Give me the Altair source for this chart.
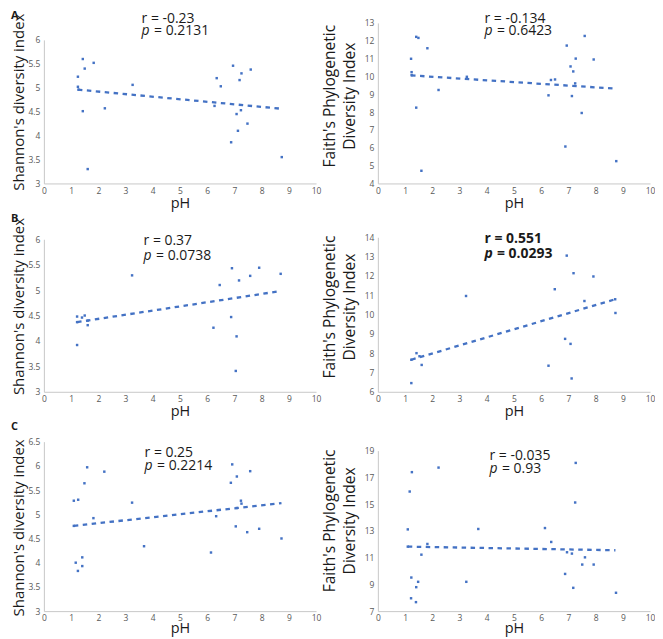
import altair as alt
import pandas as pd

# ---------------- data ----------------
x_ticks = [0, 1, 2, 3, 4, 5, 6, 7, 8, 9, 10]

# Row A
a1_ph = [1.25, 1.43, 1.50, 1.83, 1.25, 1.27, 1.43, 1.61, 2.24, 3.26, 6.35, 6.50, 6.27, 6.95, 7.19, 7.26, 7.60, 7.08, 7.24, 7.13, 7.48, 6.88, 8.74]
a1_val = [5.23, 5.60, 5.40, 5.52, 5.02, 4.96, 4.51, 3.30, 4.57, 5.06, 5.20, 5.03, 4.62, 5.46, 5.16, 5.30, 5.38, 4.45, 4.53, 4.10, 4.25, 3.86, 3.55]
a1_trend_ph = [1.25, 8.74]
a1_trend_val = [4.96, 4.56]
a1_yticks = [3, 3.5, 4, 4.5, 5, 5.5, 6]

a2_ph = [1.22, 1.24, 1.24, 1.41, 1.49, 1.82, 1.41, 1.60, 2.23, 3.27, 6.27, 6.36, 6.51, 6.94, 7.08, 7.18, 7.27, 7.25, 7.13, 7.60, 7.49, 7.93, 6.89, 8.76]
a2_val = [10.99, 10.24, 10.07, 12.22, 12.16, 11.58, 8.25, 4.71, 9.24, 9.98, 8.94, 9.80, 9.83, 11.73, 10.56, 10.28, 11.00, 9.61, 8.90, 12.27, 7.95, 10.95, 6.07, 5.25]
a2_trend_ph = [1.22, 8.77]
a2_trend_val = [10.06, 9.31]
a2_yticks = [4, 5, 6, 7, 8, 9, 10, 11, 12, 13]

# Row B
b1_ph = [1.22, 1.22, 1.40, 1.50, 1.61, 1.61, 1.22, 3.24, 6.46, 6.23, 6.88, 6.91, 7.17, 7.58, 7.91, 8.70, 7.08, 7.05]
b1_val = [4.48, 4.37, 4.46, 4.50, 4.40, 4.31, 3.92, 5.29, 5.10, 4.26, 4.47, 5.43, 5.19, 5.28, 5.44, 5.32, 4.09, 3.41]
b1_trend_ph = [1.22, 8.68]
b1_trend_val = [4.37, 4.98]
b1_yticks = [3, 3.5, 4, 4.5, 5, 5.5, 6]

b2_ph = [1.23, 1.23, 1.42, 1.53, 1.61, 3.24, 6.27, 6.50, 6.94, 7.19, 6.88, 7.08, 7.12, 7.59, 7.92, 8.73, 8.72]
b2_val = [7.66, 6.45, 8.00, 7.84, 7.39, 10.96, 7.35, 11.31, 13.05, 12.14, 8.74, 8.48, 6.69, 10.70, 11.97, 10.08, 10.79]
b2_trend_ph = [1.23, 8.72]
b2_trend_val = [7.66, 10.79]
b2_yticks = [6, 7, 8, 9, 10, 11, 12, 13, 14]

# Row C
c1_ph = [1.10, 1.26, 1.59, 1.49, 2.22, 1.82, 1.17, 1.25, 1.41, 1.41, 3.24, 3.68, 6.14, 6.33, 6.92, 7.09, 6.87, 7.24, 7.26, 7.09, 7.58, 7.05, 7.47, 7.91, 8.73, 1.10]
c1_val = [5.28, 5.30, 5.97, 5.64, 5.88, 4.92, 4.00, 3.83, 4.11, 3.93, 5.24, 4.34, 4.21, 4.96, 6.03, 5.78, 5.65, 5.28, 5.22, 5.13, 5.89, 4.75, 4.63, 4.70, 4.50, 4.76]
c1_trend_ph = [1.10, 8.73]
c1_trend_val = [4.76, 5.23]
c1_yticks = [3, 3.5, 4, 4.5, 5, 5.5, 6, 6.5]

c2_ph = [1.10, 1.17, 1.25, 1.23, 1.22, 1.40, 1.41, 1.48, 1.60, 1.82, 2.23, 3.25, 3.69, 6.14, 6.37, 6.88, 6.95, 7.13, 7.18, 7.25, 7.27, 7.51, 7.61, 7.93, 8.75, 1.10]
c2_val = [13.11, 15.94, 17.39, 9.51, 7.96, 7.67, 8.79, 9.19, 11.22, 12.02, 17.73, 9.19, 13.14, 13.21, 12.17, 9.78, 11.40, 11.30, 8.74, 15.12, 18.08, 10.48, 11.02, 10.48, 8.37, 11.82]
c2_trend_ph = [1.10, 8.73]
c2_trend_val = [11.82, 11.55]
c2_yticks = [7, 9, 11, 13, 15, 17, 19]

shannon_title = "Shannon's diversity index"
faith_title = ["Faith's Phylogenetic", "Diversity Index"]
stats_r = ["r = -0.23", "r = -0.134", "r = 0.37", "r = 0.551", "r = 0.25", "r = -0.035"]
stats_p = ["= 0.2131", "= 0.6423", "= 0.0738", "= 0.0293", "= 0.2214", "= 0.93"]
letters = ["A", "B", "C"]

# ---------------- styling ----------------
BLUE = "#4472C4"
FONT = "Open Sans"
W = 273


def txt(s, x, y, size=14, weight="normal", style="normal"):
    return alt.Chart(pd.DataFrame({"t": [s]})).mark_text(
        font=FONT, fontSize=size, fontWeight=weight, fontStyle=style,
        align="left", baseline="alphabetic", color="#1a1a1a"
    ).encode(text="t:N", x=alt.value(x), y=alt.value(y))


def panel(ph, val, tph, tval, yticks, H, ybot, ytop, ytitle, shannon, titley,
          r_txt, p_txt, tx, ry, py, bold=False, letter=None,
          xlabpad=3, xtitlepad=1.5):
    df = pd.DataFrame({"ph": ph, "v": val})
    tdf = pd.DataFrame({"ph": tph, "v": tval})
    ysc = alt.Scale(domain=[yticks[0], yticks[-1]], nice=False, zero=False,
                    range=[ybot, ytop])
    xaxis = alt.Axis(values=x_ticks, tickCount=40, format="~g", title="pH",
                     titlePadding=xtitlepad, labelPadding=xlabpad,
                     offset=-(H - ybot), labelOverlap=False,
                     labelFlush=False, labelBound=False)
    yaxis = alt.Axis(values=yticks, tickCount=40, format="~g", title=ytitle,
                     titlePadding=1 if shannon else 7,
                     titleFontSize=15 if shannon else 15.6,
                     titleLineHeight=20, titleY=titley,
                     labelOverlap=False, labelFlush=False, labelBound=False)
    xenc = alt.X("ph:Q", scale=alt.Scale(domain=[0, 10], nice=False), axis=xaxis)
    yenc = alt.Y("v:Q", scale=ysc, axis=yaxis)
    pts = alt.Chart(df).mark_square(size=6, color=BLUE, opacity=1).encode(x=xenc, y=yenc)
    line = alt.Chart(tdf).mark_line(color=BLUE, strokeWidth=2.3,
                                    strokeDash=[4.5, 4.5]).encode(x=xenc, y=yenc)
    wt = "bold" if bold else "normal"
    layers = [pts, line,
              txt(r_txt, tx, ry, weight=wt),
              txt("p", tx, py, weight=wt, style="italic"),
              txt(p_txt, tx + 12.5, py, weight=wt)]
    if letter is not None:
        layers.append(txt(letter, -33, 10, size=11, weight="bold"))
    return alt.layer(*layers).properties(width=W, height=H)


# row heights (each row's group spans its whole band of the figure)
HA, HB, HC = 204, 208, 219

pA1 = panel(a1_ph, a1_val, a1_trend_ph, a1_trend_val, a1_yticks, HA, 175, 31,
            shannon_title, True, 93, stats_r[0], stats_p[0], 98, 14.5, 26.5,
            letter=letters[0])
pA2 = panel(a2_ph, a2_val, a2_trend_ph, a2_trend_val, a2_yticks, HA, 175, 14,
            faith_title, False, 87, stats_r[1], stats_p[1], 107, 14, 26)
pB1 = panel(b1_ph, b1_val, b1_trend_ph, b1_trend_val, b1_yticks, HB, 180, 27,
            shannon_title, True, 94, stats_r[2], stats_p[2], 100, 33, 48,
            letter=letters[1], xtitlepad=1.5)
pB2 = panel(b2_ph, b2_val, b2_trend_ph, b2_trend_val, b2_yticks, HB, 180, 25,
            faith_title, False, 94.5, stats_r[3], stats_p[3], 107, 31, 46,
            bold=True, xtitlepad=1.5)
pC1 = panel(c1_ph, c1_val, c1_trend_ph, c1_trend_val, c1_yticks, HC, 192, 22,
            shannon_title, True, 108, stats_r[4], stats_p[4], 101, 37, 50,
            letter=letters[2], xlabpad=2, xtitlepad=0)
pC2 = panel(c2_ph, c2_val, c2_trend_ph, c2_trend_val, c2_yticks, HC, 192, 31,
            faith_title, False, 101, stats_r[5], stats_p[5], 112, 40, 53,
            xlabpad=2, xtitlepad=0)

rowA = alt.hconcat(pA1, pA2, spacing=1)
rowB = alt.hconcat(pB1, pB2, spacing=1)
rowC = alt.hconcat(pC1, pC2, spacing=1)

chart = alt.vconcat(rowA, rowB, rowC, spacing=0).properties(
    padding={"left": 3, "top": 0, "right": 0, "bottom": 0}
).configure_view(stroke=None).configure_axis(
    grid=False, ticks=False, domainColor="#c8c8c8", domainWidth=1,
    labelFont=FONT, labelFontSize=8.5, labelColor="#595959", labelPadding=4,
    titleFont=FONT, titleFontWeight="normal", titleColor="#1a1a1a",
).configure_axisX(titleFontSize=14.5)

chart.save("out.html", embed_options={"renderer": "svg", "actions": False})
